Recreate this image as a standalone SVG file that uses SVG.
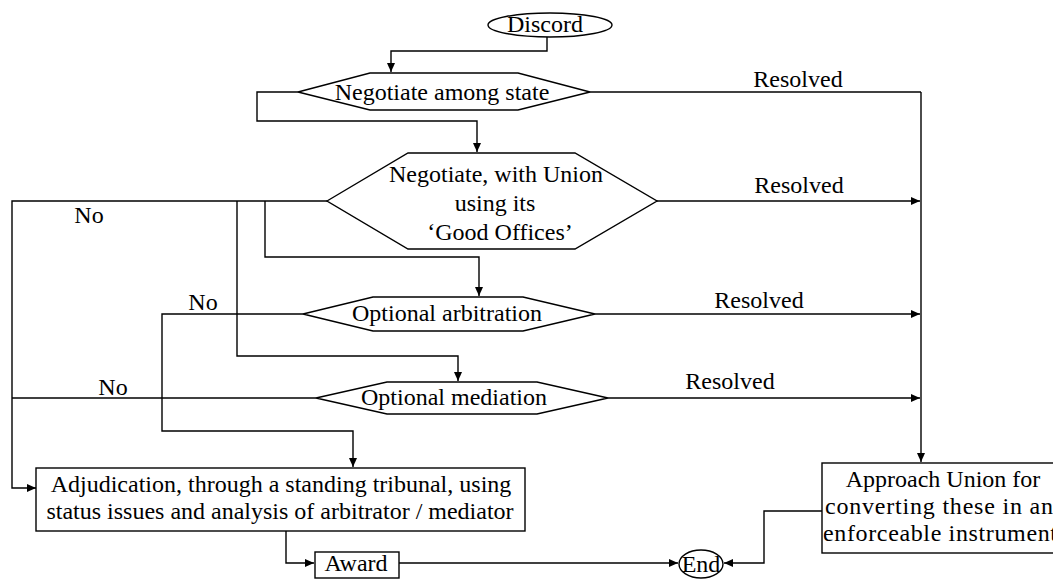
<svg xmlns="http://www.w3.org/2000/svg" width="1053" height="579" viewBox="0 0 1053 579">
  <style>
    .shape { fill: #fff; stroke: #000; stroke-width: 1.4; }
    .wire { fill: none; stroke: #000; stroke-width: 1.4; }
    .arrowed { marker-end: url(#tip); }
    text { font-family: "Liberation Serif", "Times New Roman", serif; font-size: 24px; fill: #000; }
    .c { text-anchor: middle; }
  </style>
  <defs>
    <marker id="tip" markerUnits="userSpaceOnUse" markerWidth="10" markerHeight="8" refX="9" refY="4" orient="auto">
      <path d="M0,0 L9,4 L0,8 z" fill="#000"/>
    </marker>
  </defs>

  <rect width="1053" height="579" fill="#fff"/>

  <!-- connectors -->
  <g id="connectors">
    <polyline class="wire arrowed" points="547,37 547,51 391,51 391,72"/>
    <polyline class="wire arrowed" points="298,92 257,92 257,121 477,121 477,152"/>
    <polyline class="wire" points="590,92 921,92"/>
    <polyline class="wire arrowed" points="921,92 921,462"/>
    <polyline class="wire arrowed" points="657,201 920,201"/>
    <polyline class="wire arrowed" points="327,201 12,201 12,488 36,488"/>
    <polyline class="wire arrowed" points="237,201 237,356 458,356 458,381"/>
    <polyline class="wire arrowed" points="265,201 265,257 479,257 479,296"/>
    <polyline class="wire arrowed" points="595,314 920,314"/>
    <polyline class="wire arrowed" points="303,314 162,314 162,431 353,431 353,467"/>
    <polyline class="wire arrowed" points="608,398 920,398"/>
    <polyline class="wire" points="316,398 12,398"/>
    <polyline class="wire arrowed" points="286,531 286,563 314,563"/>
    <polyline class="wire arrowed" points="399,563 678,563"/>
    <polyline class="wire arrowed" points="822,511 764,511 764,563 724,563"/>

    <text x="798" y="87" class="c">Resolved</text>
    <text x="799" y="193" class="c">Resolved</text>
    <text x="759" y="308" class="c">Resolved</text>
    <text x="730" y="389" class="c">Resolved</text>
    <text x="89" y="223" class="c">No</text>
    <text x="203" y="310" class="c">No</text>
    <text x="113" y="395" class="c">No</text>
  </g>

  <!-- nodes -->
  <g id="discord">
    <ellipse class="shape" cx="550" cy="25" rx="62" ry="12"/>
    <text x="545" y="32" class="c">Discord</text>
  </g>

  <g id="negotiate-states">
    <polygon class="shape" points="298,92 370,73 518,73 590,92 518,110 370,110"/>
    <text x="442" y="100" class="c">Negotiate among state</text>
  </g>

  <g id="negotiate-union">
    <polygon class="shape" points="327,201 408,153 575,153 657,201 575,249 408,249"/>
    <text x="496" y="182" class="c">Negotiate, with Union</text>
    <text x="495" y="211" class="c">using its</text>
    <text x="500" y="240" class="c">‘Good Offices’</text>
  </g>

  <g id="arbitration">
    <polygon class="shape" points="303,314 373,297 523,297 595,314 523,331 373,331"/>
    <text x="447" y="321" class="c">Optional arbitration</text>
  </g>

  <g id="mediation">
    <polygon class="shape" points="316,398 387,382 537,382 608,398 537,414 387,414"/>
    <text x="454" y="405" class="c">Optional mediation</text>
  </g>

  <g id="adjudication">
    <rect class="shape" x="36" y="468" width="489" height="63"/>
    <text x="281" y="492" class="c">Adjudication, through a standing tribunal, using</text>
    <text x="280" y="519" class="c">status issues and analysis of arbitrator / mediator</text>
  </g>

  <g id="award">
    <rect class="shape" x="315" y="552" width="84" height="26"/>
    <text x="356" y="571" class="c">Award</text>
  </g>

  <g id="end">
    <ellipse class="shape" cx="701" cy="564" rx="22" ry="14"/>
    <text x="701" y="572" class="c">End</text>
  </g>

  <g id="approach-union">
    <rect class="shape" x="822" y="463" width="245" height="90"/>
    <text x="943" y="487" class="c">Approach Union for</text>
    <text x="825" y="514" textLength="228" lengthAdjust="spacing">converting these in an</text>
    <text x="823" y="541" textLength="234" lengthAdjust="spacing">enforceable instrument</text>
  </g>
</svg>
